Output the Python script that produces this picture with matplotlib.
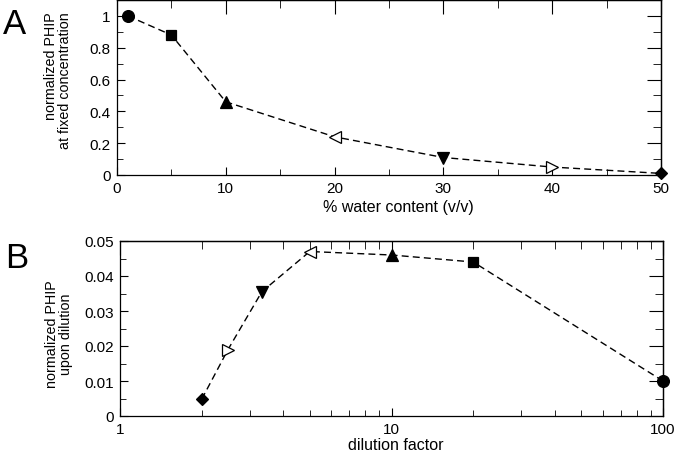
import matplotlib
matplotlib.use('Agg')
import matplotlib.pyplot as plt
from matplotlib.ticker import MultipleLocator, LogLocator, FixedLocator, NullFormatter

plt.rcParams['font.family'] = ['Liberation Sans', 'DejaVu Sans']

# panel A: PHIP vs water content
water = [1, 5, 10, 20, 30, 40, 50]
phip_fixed = [1.0, 0.88, 0.46, 0.24, 0.11, 0.05, 0.01]

# panel B: PHIP vs dilution factor
dilution = [2, 2.5, 3.33, 5, 10, 20, 100]
phip_dil = [0.0048, 0.019, 0.0355, 0.047, 0.046, 0.044, 0.010]

markers_a = ['o', 's', '^', '<', 'v', '>', 'D']
fills_a = ['k', 'k', 'k', 'w', 'k', 'w', 'k']
markers_b = ['D', '>', 'v', '<', '^', 's', 'o']
fills_b = ['k', 'w', 'k', 'w', 'k', 'k', 'k']
sizes = {'o': 8.5, 's': 7, '^': 8.5, 'v': 8.5, '<': 8.5, '>': 8.5, 'D': 6.5}

fig = plt.figure(figsize=(6.78, 4.52), dpi=100)
W, H = 678, 452
axA = fig.add_axes([117 / W, 1 - 176 / H, (661 - 117) / W, (176 - 1) / H])
axB = fig.add_axes([120 / W, 1 - 417 / H, (663 - 120) / W, (417 - 242) / H])


def style(ax, xmaj, xmin, ymaj, ymin):
    ax.xaxis.set_major_locator(xmaj)
    ax.xaxis.set_minor_locator(xmin)
    ax.yaxis.set_major_locator(ymaj)
    ax.yaxis.set_minor_locator(ymin)
    ax.tick_params(which='both', direction='in', labelsize=11, pad=4.5)
    ax.tick_params(which='major', length=6, width=0.8)
    ax.tick_params(which='minor', length=4, width=0.6)
    for s in ax.spines.values():
        s.set_linewidth(0.9)
    # longer ticks on the top and right edges
    top = ax.secondary_xaxis('top')
    right = ax.secondary_yaxis('right')
    top.xaxis.set_major_locator(xmaj)
    top.xaxis.set_minor_locator(xmin)
    right.yaxis.set_major_locator(ymaj)
    right.yaxis.set_minor_locator(ymin)
    for sec in (top, right):
        sec.tick_params(which='both', direction='in', labelleft=False,
                        labelright=False, labeltop=False, labelbottom=False)
        sec.tick_params(which='major', length=10, width=0.8)
        sec.tick_params(which='minor', length=6, width=0.6)
        for s in sec.spines.values():
            s.set_linewidth(0.9)


axA.plot(water, phip_fixed, 'k--', lw=1, dashes=(5, 3))
for x, y, m, f in zip(water, phip_fixed, markers_a, fills_a):
    axA.plot(x, y, marker=m, ms=sizes[m], mfc=f, mec='k', mew=0.9,
             clip_on=False, zorder=5)
axA.set_xlim(0, 50)
axA.set_ylim(0, 1.1)
style(axA, MultipleLocator(10), MultipleLocator(5),
      FixedLocator([0, 0.2, 0.4, 0.6, 0.8, 1.0]), MultipleLocator(0.1))
axA.set_yticklabels(['0', '0.2', '0.4', '0.6', '0.8', '1'])
axA.set_xlabel('% water content (v/v)', fontsize=11.5)
axA.xaxis.set_label_coords(0.517, -0.14)
axA.set_ylabel('normalized PHIP\nat fixed concentration', fontsize=10.3,
               linespacing=1.0, multialignment='right')
axA.yaxis.set_label_coords(-0.083, 0.546)

axB.plot(dilution, phip_dil, 'k--', lw=1, dashes=(5, 3))
for x, y, m, f in zip(dilution, phip_dil, markers_b, fills_b):
    axB.plot(x, y, marker=m, ms=sizes[m], mfc=f, mec='k', mew=0.9,
             clip_on=False, zorder=5)
axB.set_xscale('log')
axB.set_xlim(1, 100)
axB.set_ylim(0, 0.05)
style(axB, FixedLocator([1, 10, 100]), LogLocator(base=10, subs=range(2, 10)),
      FixedLocator([0, 0.01, 0.02, 0.03, 0.04, 0.05]), MultipleLocator(0.005))
axB.set_xticklabels(['1', '10', '100'])
axB.xaxis.set_minor_formatter(NullFormatter())
axB.set_yticklabels(['0', '0.01', '0.02', '0.03', '0.04', '0.05'])
axB.set_xlabel('dilution factor', fontsize=11.5)
axB.xaxis.set_label_coords(0.508, -0.118)
axB.set_ylabel('normalized PHIP\nupon dilution', fontsize=10.3,
               linespacing=1.0)
axB.yaxis.set_label_coords(-0.087, 0.474)

fig.text(3 / W, 1 - 34 / H, 'A', fontsize=25)
fig.text(5 / W, 1 - 268 / H, 'B', fontsize=25)

fig.savefig('out.png', dpi=100)
